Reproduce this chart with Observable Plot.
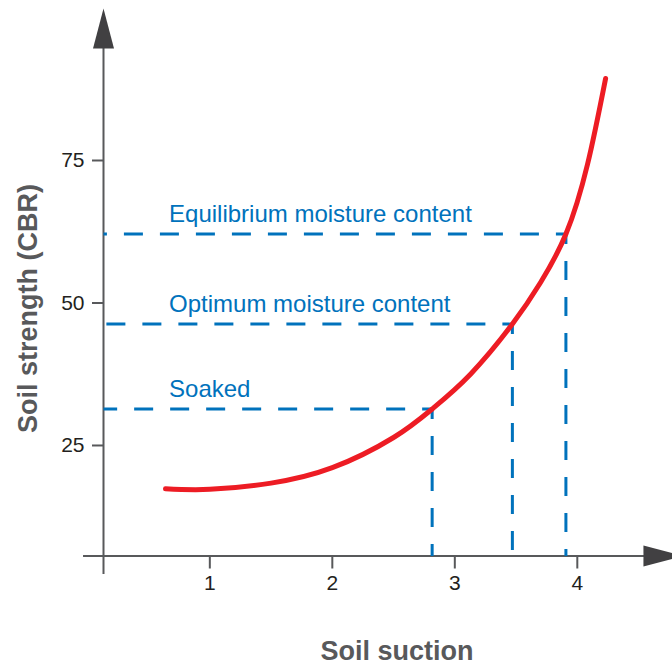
<!DOCTYPE html>
<html>
<head>
<meta charset="utf-8">
<script src="https://cdn.jsdelivr.net/npm/d3@7"></script>
<script src="https://cdn.jsdelivr.net/npm/@observablehq/plot@0.6"></script>
<style>
  html, body { margin: 0; padding: 0; background: #fff; }
</style>
</head>
<body>
<div id="chart"></div>
<script>
// Soil strength (CBR) as a function of soil suction
const suction  = [0.638, 1.0, 1.5, 2.0, 2.5, 2.815, 3.128, 3.47, 3.7, 3.907, 4.083, 4.231];
const strength = [17.4, 17.3, 18.4, 21.1, 26.4, 31.4, 37.5, 46.3, 53.6, 62.1, 74.3, 89.4];

// Moisture conditions marked on the curve
const levelNames   = ["Soaked", "Optimum moisture content", "Equilibrium moisture content"];
const levelSuction = [2.815, 3.47, 3.907];
const levelCBR     = [31.4, 46.3, 62.1];

const xTicks = [1, 2, 3, 4];
const yTicks = [25, 50, 75];

const curveData = suction.map((s, i) => ({suction: s, cbr: strength[i]}));
const levels = levelNames.map((name, i) => ({name, suction: levelSuction[i], cbr: levelCBR[i]}));

// Scale extents and decoration anchors
const X0 = 0.132, X1 = 4.6;
const Y0 = 5.61, Y1 = 103.07;
const RED = "#ED1C24", BLUE = "#0072BC", AXIS = "#58595B", INK = "#231F20", HEAD = "#414042";

// Filled arrowhead pointing up, base centred on the anchor point
const arrowHead = {
  draw(context) {
    context.moveTo(0, -40);
    context.lineTo(10.5, 0);
    context.lineTo(-10.5, 0);
    context.closePath();
  }
};

const chart = Plot.plot({
  width: 672,
  height: 666,
  marginLeft: 103,
  marginRight: 21.7,
  marginTop: 0,
  marginBottom: 110.5,
  x: {domain: [X0, X1]},
  y: {domain: [Y0, Y1]},
  style: {fontFamily: "'Liberation Sans', Arial, Helvetica, sans-serif", background: "#fff"},
  marks: [
    // axis lines
    Plot.ruleX([X0], {y1: 2.36, y2: 96, stroke: AXIS, strokeWidth: 2}),
    Plot.ruleY([Y0], {x1: -0.031, x2: 4.56, stroke: AXIS, strokeWidth: 2}),
    Plot.dot([{x: X0, y: 94.65, r: 0}, {x: 4.54, y: Y0, r: 90}], {
      x: "x", y: "y", rotate: "r", symbol: arrowHead, fill: HEAD, stroke: null
    }),
    Plot.axisX({ticks: xTicks, tickFormat: d => String(d), tickSize: 13, tickPadding: 6.5, fontSize: 21,
      stroke: AXIS, strokeWidth: 2, fill: INK, label: null}),
    Plot.axisY({ticks: yTicks, tickFormat: d => String(d), tickSize: 11, tickPadding: 8, fontSize: 21,
      stroke: AXIS, strokeWidth: 2, fill: INK, label: null}),

    // dashed guides from each point on the curve to both axes
    Plot.link(levels, {x1: "suction", y1: "cbr", x2: X0, y2: "cbr",
      stroke: BLUE, strokeWidth: 3, strokeDasharray: "19,17", strokeDashoffset: 9}),
    Plot.link(levels, {x1: "suction", y1: "cbr", x2: "suction", y2: Y0,
      stroke: BLUE, strokeWidth: 3, strokeDasharray: "19,17", strokeDashoffset: 9}),
    Plot.text(levels, {x: 0.667, y: "cbr", text: "name", dy: -12,
      textAnchor: "start", lineAnchor: "bottom", fill: BLUE, fontSize: 24}),

    // strength curve
    Plot.line(curveData, {x: "suction", y: "cbr", stroke: RED, strokeWidth: 5, curve: "natural"}),

    // axis titles
    Plot.text(["Soil suction"], {frameAnchor: "bottom", dx: 19.85, dy: 103.5, lineAnchor: "bottom",
      fontSize: 27, fontWeight: "bold", fill: AXIS}),
    Plot.text(["Soil strength (CBR)"], {frameAnchor: "left", rotate: -90, dx: -66.5, dy: 30.25,
      textAnchor: "middle", lineAnchor: "bottom", fontSize: 27, fontWeight: "bold", fill: AXIS})
  ]
});

document.getElementById("chart").appendChild(chart);
</script>
</body>
</html>
